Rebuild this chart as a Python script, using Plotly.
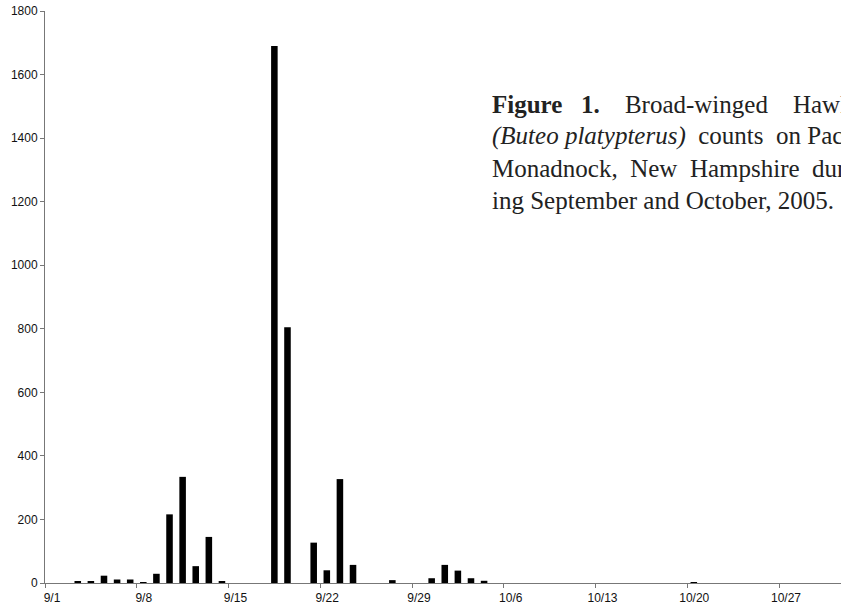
import plotly.graph_objects as go

# Daily Broad-winged Hawk counts, 9/1 .. 10/31 (2005)
dates = ([f"9/{d}" for d in range(1, 31)] + [f"10/{d}" for d in range(1, 32)])
counts = [
    0, 0, 4, 5, 23, 11, 11, 2, 29, 216,      # 9/1 - 9/10
    334, 53, 145, 4, 0, 0, 0, 1690, 805, 0,  # 9/11 - 9/20
    127, 40, 327, 57, 0, 0, 9, 0, 0, 15,     # 9/21 - 9/30
    57, 39, 15, 7, 0, 0, 0, 0, 0, 0,         # 10/1 - 10/10
    0, 0, 0, 0, 0, 0, 0, 0, 0, 2,            # 10/11 - 10/20
    0, 0, 0, 0, 0, 0, 0, 0, 0, 0, 0,         # 10/21 - 10/31
]
tick_labels = ["9/1", "9/8", "9/15", "9/22", "9/29", "10/6", "10/13", "10/20", "10/27"]
y_ticks = [0, 200, 400, 600, 800, 1000, 1200, 1400, 1600, 1800]

# caption (justified text in the original; wider gaps emulated with no-break spaces)
NB = "\u00a0"
caption_lines = [
    f"<b>Figure{NB*3}1.</b>{NB*4}Broad-winged{NB*4}Hawk",
    f"<i>(Buteo platypterus)</i>{NB*2}counts{NB*2}on Pack",
    f"Monadnock,{NB*2}New{NB*2}Hampshire{NB*2}dur-",
    "ing September and October, 2005.",
]

x_idx = list(range(len(dates)))
tick_pos = [dates.index(t) - 0.5 for t in tick_labels]

fig = go.Figure(go.Bar(
    x=x_idx, y=counts, width=0.5,
    marker=dict(color="black", line=dict(width=0)),
    hoverinfo="skip",
))

axis_font = dict(family="Liberation Sans, Arial", size=12, color="#111")
fig.update_layout(
    width=841, height=611,
    margin=dict(l=45, r=0, t=11, b=28),
    paper_bgcolor="white", plot_bgcolor="white",
    showlegend=False,
    xaxis=dict(
        range=[-0.5, 60.23], tickmode="array", tickvals=tick_pos, ticktext=tick_labels,
        ticks="outside", ticklen=4, tickcolor="#777", showline=True, linecolor="#777",
        linewidth=1, showgrid=False, zeroline=False, tickfont=axis_font,
        ticklabelshift=7,
    ),
    yaxis=dict(
        range=[0, 1800], tickmode="array", tickvals=y_ticks,
        ticks="outside", ticklen=4, tickcolor="#777", showline=True, linecolor="#777",
        linewidth=1, showgrid=False, zeroline=False, tickfont=axis_font,
    ),
)

line_y = [104, 136, 168, 200]
for txt, py in zip(caption_lines, line_y):
    fig.add_annotation(
        text=txt, xref="paper", yref="paper",
        x=(490 - 45) / 796, y=(583 - py) / 572,
        xanchor="left", yanchor="middle", showarrow=False,
        font=dict(family="Liberation Serif, Times New Roman", size=25, color="#222"),
    )

fig.write_html(
    "out.html",
    config={"displayModeBar": False},
    post_script="document.body.style.margin='0';document.body.style.overflow='hidden';",
)
